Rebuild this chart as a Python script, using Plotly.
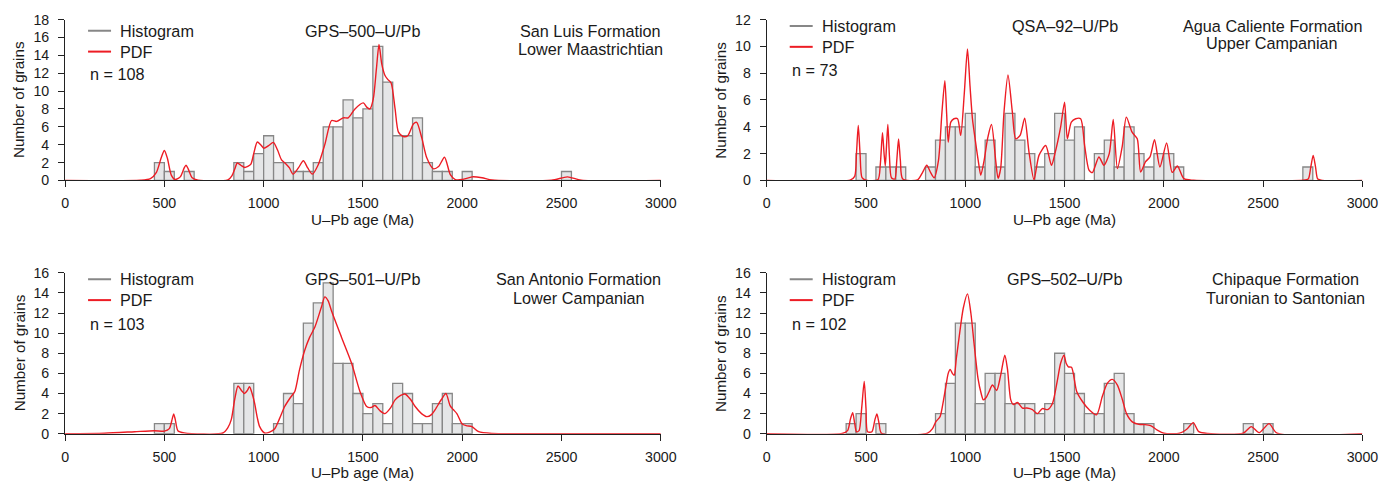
import plotly.graph_objects as go

W, H = 1390, 485

# ---------------- data ----------------
# GPS-500 (San Luis Formation)
gps500_bin_start = [450, 500, 600, 850, 900, 950, 1000, 1050, 1100, 1150, 1200, 1250, 1300, 1350,
                    1400, 1450, 1500, 1550, 1600, 1650, 1700, 1750, 1800, 1850, 1900, 2000, 2500]
gps500_counts = [2, 1, 1, 2, 1, 3, 5, 2, 2, 1, 1, 2, 6, 6, 9, 7, 8, 15, 11, 5, 5, 7, 2, 1, 1, 1, 1]
gps500_pdf_age = [0, 380, 430, 460, 485, 500, 515, 535, 555, 580, 600, 609, 620, 640, 670, 820, 840, 855,
                  867, 885, 905, 935, 950, 968, 985, 1001, 1025, 1049, 1070, 1090, 1110, 1130, 1148, 1175,
                  1200, 1222, 1245, 1275, 1308, 1342, 1367, 1401, 1426, 1460, 1502, 1519, 1535, 1552, 1568,
                  1581, 1595, 1610, 1625, 1642, 1662, 1679, 1704, 1726, 1755, 1771, 1797, 1822, 1855, 1881,
                  1911, 1940, 1965, 2000, 2050, 2100, 2150, 2450, 2530, 2600, 3000]
gps500_pdf_val = [0, 0.02, 0.2, 0.9, 2.6, 3.35, 2.5, 0.6, 0.1, 0.4, 1.4, 1.7, 1.3, 0.3, 0.02, 0.05, 0.5, 1.3,
                  1.95, 1.7, 1.45, 1.8, 3.0, 4.3, 4.0, 3.6, 3.9, 4.25, 3.4, 2.3, 1.9, 1.4, 0.7, 1.4,
                  2.2, 1.4, 0.7, 1.76, 4.0, 6.7, 6.6, 7.0, 7.0, 8.0, 8.67, 8.2, 8.0, 9.1, 12.5,
                  15.2, 13.0, 11.8, 11.3, 10.9, 8.0, 5.4, 4.9, 5.0, 6.35, 6.5, 4.7, 2.5, 1.3, 1.55,
                  2.6, 0.66, 0.1, 0.1, 0.4, 0.3, 0.05, 0.02, 0.4, 0.02, 0]

# QSA-92 (Agua Caliente Formation)
qsa92_bin_start = [450, 550, 600, 650, 800, 850, 900, 950, 1000, 1050, 1100, 1150, 1200, 1250, 1300, 1350,
                   1400, 1450, 1500, 1550, 1650, 1700, 1750, 1800, 1850, 1900, 1950, 2000, 2050, 2700]
qsa92_counts = [2, 1, 1, 1, 1, 3, 4, 4, 5, 1, 3, 1, 5, 3, 2, 1, 2, 5, 3, 4, 2, 3, 1, 4, 2, 1, 2, 2, 1, 1]
qsa92_pdf_age = [0, 420, 443, 452, 461, 470, 480, 500, 560, 572, 583, 591, 597, 603, 610, 618, 628, 645, 655,
                 664, 673, 685, 760, 785, 806, 825, 843, 865, 882, 897, 906, 914, 927, 943, 961, 977, 995,
                 1011, 1024, 1036, 1053, 1065, 1078, 1095, 1112, 1132, 1153, 1165, 1178, 1195, 1215, 1237,
                 1254, 1276, 1299, 1321, 1346, 1371, 1405, 1434, 1453, 1480, 1500, 1514, 1534, 1556, 1581,
                 1601, 1623, 1640, 1673, 1698, 1725, 1745, 1766, 1790, 1811, 1840, 1866, 1883, 1908, 1930,
                 1953, 1980, 2014, 2042, 2068, 2101, 2150, 2700, 2727, 2740, 2752, 2764, 2775, 2800, 3000]
qsa92_pdf_val = [0, 0.02, 0.3, 2.0, 4.1, 2.0, 0.2, 0.02, 0.05, 1.2, 3.55, 2.0, 1.08, 2.5, 4.17, 1.8, 0.2, 0.1,
                 1.5, 3.1, 1.5, 0.1, 0.05, 0.6, 1.13, 0.6, 0.2, 1.5, 5.0, 7.44, 5.0, 2.86, 4.35, 4.6, 4.6, 3.36,
                 6.5, 9.8, 7.0, 4.6, 2.73, 1.5, 0.39, 1.5, 3.1, 4.17, 1.5, 0.15, 0.88, 5.1, 7.86, 5.1,
                 3.1, 3.36, 4.64, 2.1, 0.05, 1.87, 2.6, 1.13, 2.1, 3.97, 5.83, 3.1, 4.35, 4.6, 4.6,
                 2.6, 0.76, 0.58, 1.75, 1.13, 2.0, 4.55, 0.88, 2.5, 4.72, 3.6, 3.1, 0.63, 1.4, 1.75,
                 3.03, 1.0, 2.79, 0.6, 1.08, 0.13, 0.01, 0.01, 0.1, 1.0, 1.87, 1.0, 0.1, 0, 0]

# GPS-501 (San Antonio Formation)
gps501_bin_start = [450, 500, 850, 900, 1050, 1100, 1150, 1200, 1250, 1300, 1350, 1400, 1450, 1500, 1550,
                    1600, 1650, 1700, 1750, 1800, 1850, 1900, 1950, 2000]
gps501_counts = [1, 1, 5, 5, 1, 4, 3, 11, 13, 15, 7, 7, 4, 2, 3, 1, 5, 4, 1, 1, 3, 4, 1, 1]
gps501_pdf_age = [0, 200, 350, 450, 500, 525, 540, 547, 555, 568, 600, 795, 820, 837, 855, 871, 888, 904, 918,
                  929, 942, 955, 968, 980, 1005, 1030, 1056, 1080, 1106, 1135, 1157, 1180, 1207, 1232, 1258,
                  1291, 1308, 1325, 1342, 1392, 1443, 1485, 1519, 1540, 1561, 1585, 1611, 1640, 1662, 1690,
                  1712, 1740, 1763, 1795, 1822, 1845, 1864, 1895, 1918, 1939, 1955, 1973, 1999, 2020, 2049,
                  2083, 2150, 2500, 3000]
gps501_pdf_val = [0, 0.05, 0.2, 0.3, 0.25, 0.5, 1.5, 1.97, 1.4, 0.3, 0.08, 0.07, 0.6, 1.4, 3.5, 4.74, 4.3, 4.0, 4.3,
                  4.67, 4.0, 3.0, 1.6, 0.7, 0.07, 0.15, 0.5, 1.5, 2.7, 3.6, 4.2, 6.3, 8.3, 9.6, 10.6,
                  12.6, 13.6, 13.2, 12.2, 9.6, 7.0, 4.2, 2.7, 2.6, 2.8, 2.3, 2.0, 2.6, 3.36, 3.8,
                  3.95, 3.4, 2.7, 2.0, 1.7, 1.9, 2.4, 3.4, 4.0, 2.8, 2.4, 2.0, 1.0, 0.8, 0.7,
                  0.2, 0.03, 0, 0]

# GPS-502 (Chipaque Formation)
gps502_bin_start = [400, 450, 550, 850, 900, 950, 1000, 1050, 1100, 1150, 1200, 1250, 1300, 1350, 1400, 1450,
                    1500, 1550, 1600, 1650, 1700, 1750, 1800, 1850, 1900, 2100, 2400, 2500]
gps502_counts = [1, 2, 1, 2, 5, 11, 11, 3, 6, 6, 3, 3, 3, 2, 3, 8, 6, 4, 2, 2, 5, 6, 2, 1, 1, 1, 1, 1]
gps502_pdf_age = [0, 380, 407, 422, 433, 443, 452, 465, 478, 491, 500, 508, 530, 545, 555, 566, 578, 810, 835,
                  852, 873, 890, 902, 914, 924, 935, 944, 955, 969, 990, 1011, 1028, 1044, 1064, 1080, 1091,
                  1105, 1120, 1137, 1158, 1178, 1199, 1212, 1229, 1242, 1263, 1288, 1310, 1338, 1363, 1388,
                  1415, 1439, 1464, 1480, 1497, 1508, 1519, 1535, 1561, 1590, 1623, 1661, 1690, 1715, 1740,
                  1766, 1791, 1812, 1841, 1874, 1905, 1933, 1967, 2000, 2080, 2118, 2148, 2176, 2220, 2400,
                  2440, 2480, 2530, 2570, 3000]
gps502_pdf_val = [0, 0.02, 0.3, 1.5, 2.1, 1.0, 0.2, 0.3, 2.5, 5.2, 2.5, 0.2, 0.2, 1.4, 1.97, 1.0, 0.05, 0.05, 0.5,
                  1.2, 1.7, 3.3, 4.67, 6.0, 6.4, 6.0, 5.8, 7.5, 9.6, 12.5, 13.9, 12.0, 9.0, 5.5, 4.0, 3.36,
                  3.6, 4.2, 4.84, 4.3, 5.8, 7.8, 6.5, 3.36, 2.9, 3.1, 2.55, 2.55, 2.4, 2.0, 2.5,
                  2.4, 3.0, 5.33, 7.0, 7.8, 7.0, 6.65, 6.6, 4.2, 3.2, 2.4, 1.88, 3.7, 5.0, 5.4,
                  4.84, 3.4, 2.0, 1.18, 0.93, 0.9, 0.8, 0.36, 0.05, 0.05, 0.5, 1.1, 0.2, 0.02, 0.05,
                  0.7, 0.1, 1.0, 0.05, 0]

panel_names = ["GPS–500–U/Pb", "QSA–92–U/Pb", "GPS–501–U/Pb", "GPS–502–U/Pb"]
panel_units_1 = ["San Luis Formation", "Agua Caliente Formation", "San Antonio Formation", "Chipaque Formation"]
panel_units_2 = ["Lower Maastrichtian", "Upper Campanian", "Lower Campanian", "Turonian to Santonian"]
panel_n = [108, 73, 103, 102]
panel_ymax = [18, 12, 16, 16]
x_ticks = [0, 500, 1000, 1500, 2000, 2500, 3000]
bin_width = 50

# ---------------- styling / layout ----------------
BAR_FILL = "rgb(229,230,231)"
BAR_LINE = "rgb(135,135,135)"
RED = "rgb(237,28,36)"
TXT = "#1a1a1a"
FONT = "Liberation Sans, Arial, Helvetica, sans-serif"

# the captured picture comes out slightly reduced; place things so they land where intended
OX, SX, OY, SY = 2.9, 0.9861, 5.4, 0.9736


def px(x):
    return ((x - OX) / SX) / W


def py(y):
    return 1 - ((y - OY) / SY) / H


def fs(s):
    return s / SX


# target pixel boxes of each plotting area: (left, right, top, bottom)
boxes = [(64, 660, 17, 179), (766, 1362, 17, 179), (64, 660, 272, 434), (766, 1362, 272, 434)]
# target text rows (centres): legend row 1, legend row 2, n row, unit line 1, unit line 2
text_rows = [(28.3, 49.3, 71.5, 28.3, 46.7), (23.5, 44.5, 68.0, 23.3, 40.9),
             (278.5, 299.5, 323.5, 278.5, 297.0), (278.5, 299.5, 323.5, 278.5, 297.0)]
unit_cx = [590, 1272, 578, 1285]

data_sets = [
    (gps500_bin_start, gps500_counts, gps500_pdf_age, gps500_pdf_val),
    (qsa92_bin_start, qsa92_counts, qsa92_pdf_age, qsa92_pdf_val),
    (gps501_bin_start, gps501_counts, gps501_pdf_age, gps501_pdf_val),
    (gps502_bin_start, gps502_counts, gps502_pdf_age, gps502_pdf_val),
]

fig = go.Figure()
annotations = []
shapes = []


def label(x, y, text, size=16, xanchor="left", angle=0):
    annotations.append(dict(x=px(x), y=py(y), xref="paper", yref="paper", text=text, textangle=angle,
                            showarrow=False, font=dict(family=FONT, size=fs(size), color=TXT),
                            xanchor=xanchor, yanchor="middle"))


for i, (bins, counts, pa, pv) in enumerate(data_sets):
    k = "" if i == 0 else str(i + 1)
    xa, ya = "x" + k, "y" + k
    fig.add_trace(go.Bar(x=bins, y=counts, width=bin_width, offset=0, xaxis=xa, yaxis=ya,
                         marker=dict(color=BAR_FILL, line=dict(color=BAR_LINE, width=1.3)),
                         showlegend=False, hoverinfo="skip"))
    fig.add_trace(go.Scatter(x=pa, y=pv, mode="lines", xaxis=xa, yaxis=ya,
                             line=dict(color=RED, width=1.4, shape="spline", smoothing=0.7),
                             showlegend=False, hoverinfo="skip"))
    l, r, t, b = boxes[i]
    axis_common = dict(showline=True, linecolor="#222", linewidth=1, ticks="outside", ticklen=6,
                       tickwidth=1, tickcolor="#222", showgrid=False, zeroline=False,
                       tickfont=dict(family=FONT, size=fs(14), color=TXT))
    fig.layout["xaxis" + k] = dict(domain=[px(l), px(r)], range=[0, 3000], anchor=ya,
                                   tickvals=x_ticks, ticktext=[str(v) for v in x_ticks],
                                   ticklabelstandoff=4, **axis_common)
    fig.layout["yaxis" + k] = dict(domain=[py(b), py(t)], range=[0, panel_ymax[i]], anchor=xa,
                                   tickvals=list(range(0, panel_ymax[i] + 1, 2)),
                                   ticklabelstandoff=6, **axis_common)
    r1, r2, rn, u1, u2 = text_rows[i]
    # axis titles
    label(l - 46, (t + b) / 2, "Number of grains", size=15, xanchor="center", angle=-90)
    label((l + r) / 2, b + 39, "U–Pb age (Ma)", size=15, xanchor="center")
    # legend
    lx = l + 23
    for yy, lab, col in [(r1, "Histogram", BAR_LINE), (r2, "PDF", RED)]:
        shapes.append(dict(type="line", xref="paper", yref="paper", x0=px(lx), x1=px(lx + 23),
                           y0=py(yy), y1=py(yy), line=dict(color=col, width=2)))
        label(lx + 30, yy, lab)
    label(lx, rn, f"n = {panel_n[i]}")
    label((l + r) / 2, r1, panel_names[i], xanchor="center")
    label(unit_cx[i], u1, panel_units_1[i], xanchor="center")
    label(unit_cx[i], u2, panel_units_2[i], xanchor="center")

fig.update_layout(width=W, height=H, margin=dict(l=0, r=0, t=0, b=0, pad=0), autosize=False,
                  paper_bgcolor="white", plot_bgcolor="white", barmode="overlay",
                  annotations=annotations, shapes=shapes, font=dict(family=FONT, color=TXT))

fig.write_html("out.html", config={"displayModeBar": False})
